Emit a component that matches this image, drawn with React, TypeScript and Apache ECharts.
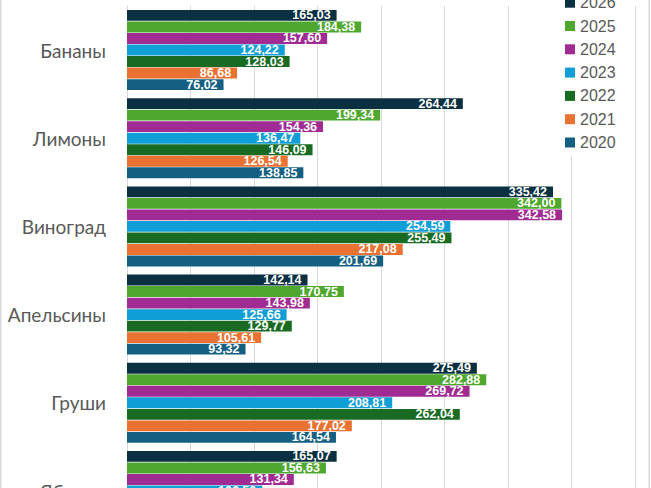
import React, { useEffect, useRef } from "react";
import * as echarts from "echarts";

// Fruit categories, top to bottom
const categories = ["Бананы", "Лимоны", "Виноград", "Апельсины", "Груши", "Яблоки"];

// Years in legend order
const years = ["2026", "2025", "2024", "2023", "2022", "2021", "2020"];

// Values per year, one entry per fruit (null where no value is shown)
const v2026 = [165.03, 264.44, 335.42, 142.14, 275.49, 165.07];
const v2025 = [184.38, 199.34, 342.0, 170.75, 282.88, 156.63];
const v2024 = [157.6, 154.36, 342.58, 143.98, 269.72, 131.34];
const v2023 = [124.22, 136.47, 254.59, 125.66, 208.81, 106.5];
const v2022 = [128.03, 146.09, 255.49, 129.77, 262.04, null];
const v2021 = [86.68, 126.54, 217.08, 105.61, 177.02, null];
const v2020 = [76.02, 138.85, 201.69, 93.32, 164.54, null];

const seriesValues = [v2026, v2025, v2024, v2023, v2022, v2021, v2020];

// Value axis range
const axisMin = 0;
const axisMax = 400;
const axisStep = 50;

const palette = ["#0A3041", "#4EA72E", "#A02B93", "#0F9ED5", "#196B24", "#E97132", "#156082"];

const fmt = (v: number) => v.toFixed(2).replace(".", ",");

export default function App() {
  const ref = useRef<HTMLDivElement>(null);

  useEffect(() => {
    if (!ref.current) return;
    const chart = echarts.init(ref.current, undefined, { renderer: "svg" });
    chart.setOption({
      animation: false,
      color: palette,
      grid: { left: 127, right: 16, top: 25.9, bottom: 44.9, containLabel: false },
      legend: {
        orient: "vertical",
        left: 560,
        top: 9.7,
        padding: 5,
        itemGap: 7.3,
        itemWidth: 10,
        itemHeight: 10,
        icon: "rect",
        backgroundColor: "#ffffff",
        textStyle: { fontFamily: "Liberation Sans", fontSize: 16, color: "#595959" },
        data: years,
      },
      xAxis: {
        type: "value",
        min: axisMin,
        max: axisMax,
        interval: axisStep,
        axisLine: { show: false },
        axisTick: { show: false },
        axisLabel: { show: false },
        splitLine: { lineStyle: { color: "#d9d9d9", width: 1 } },
      },
      yAxis: {
        type: "category",
        inverse: true,
        data: categories,
        axisLine: { show: true, lineStyle: { color: "#d9d9d9" } },
        axisTick: { show: false },
        axisLabel: { fontFamily: "Lato", fontSize: 19, color: "#595959", margin: 21 },
      },
      series: years.map((y, i) => ({
        name: y,
        type: "bar",
        data: seriesValues[i],
        barGap: "6%",
        barCategoryGap: "9.3%",
        label: {
          show: true,
          position: "insideRight",
          distance: 6,
          color: "#ffffff",
          fontFamily: "Liberation Sans",
          fontWeight: "bold",
          fontSize: 12.5,
          formatter: (p: any) => fmt(p.value),
        },
      })),
      graphic: [
        {
          type: "rect",
          shape: { x: 0.75, y: 0, width: 648.5, height: 600 },
          style: { fill: "none", stroke: "#d9d9d9", lineWidth: 1.5 },
          silent: true,
        },
      ],
    });
    return () => chart.dispose();
  }, []);

  return (
    <div style={{ position: "fixed", left: 0, top: 0, width: 651, height: 488, overflow: "hidden", background: "#fff" }}>
      <div ref={ref} style={{ position: "absolute", left: 0, top: -20, width: 651, height: 600 }} />
    </div>
  );
}
